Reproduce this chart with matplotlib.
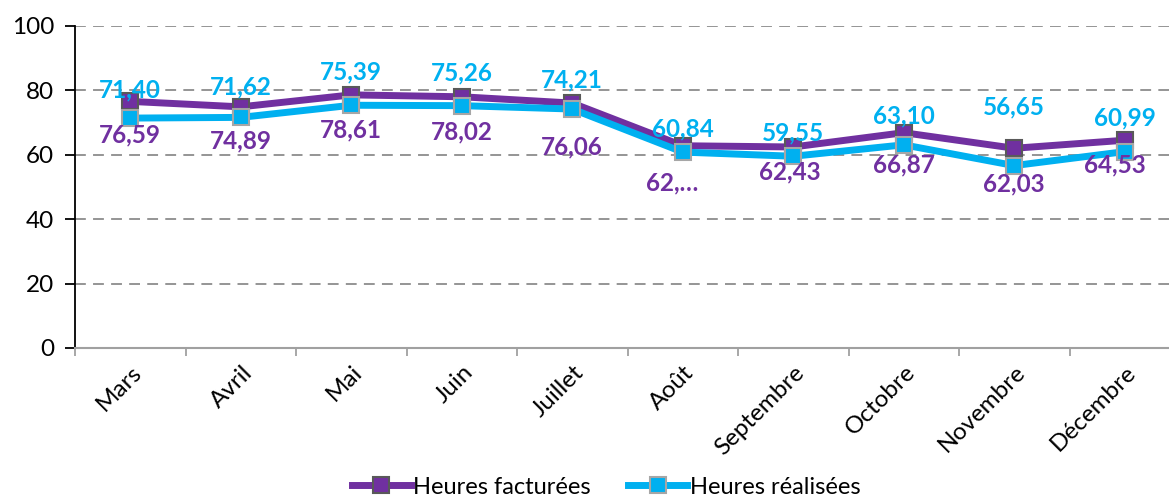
import matplotlib.pyplot as plt
from matplotlib.lines import Line2D

months = ['Mars', 'Avril', 'Mai', 'Juin', 'Juillet', 'Août',
          'Septembre', 'Octobre', 'Novembre', 'Décembre']
facturees = [76.59, 74.89, 78.61, 78.02, 76.06, 62.81, 62.43, 66.87, 62.03, 64.53]
realisees = [71.40, 71.62, 75.39, 75.26, 74.21, 60.84, 59.55, 63.10, 56.65, 60.99]
fact_labels = ['76,59', '74,89', '78,61', '78,02', '76,06', '62,…', '62,43', '66,87', '62,03', '64,53']
real_labels = ['71,40', '71,62', '75,39', '75,26', '74,21', '60,84', '59,55', '63,10', '56,65', '60,99']

# label offsets in pixels (Excel placement)
fact_off = [(0, -34), (0, -34), (0, -35), (0, -35), (0, -44), (-11, -37), (-3, -25), (0, -32), (0, -36), (-10, -25)]
real_off = [(0, 28), (0, 30), (0, 33), (0, 33), (0, 29), (0, 23), (0, 23), (0, 29), (0, 59), (0, 34)]

PURPLE = '#7030A0'
CYAN = '#00B0F0'
FONT = 'Lato'
FS = 17.5

plt.rcParams['font.family'] = [FONT, 'DejaVu Sans']

fig = plt.figure(figsize=(11.69, 4.97), dpi=100)
ax = fig.add_axes([75 / 1169, 149 / 497, 1105 / 1169, 322 / 497])

x = list(range(len(months)))
ax.plot(x, facturees, color=PURPLE, lw=5, marker='s', ms=12,
        mfc=PURPLE, mec='#595959', mew=1.5, zorder=4)
ax.plot(x, realisees, color=CYAN, lw=5, marker='s', ms=12,
        mfc=CYAN, mec='#A6A6A6', mew=1.5, zorder=5)

for i in x:
    ax.annotate(fact_labels[i], (i, facturees[i]), xytext=fact_off[i],
                textcoords='offset pixels', ha='center', va='center',
                fontsize=FS, fontweight='bold', color=PURPLE, zorder=6)
    ax.annotate(real_labels[i], (i, realisees[i]), xytext=real_off[i],
                textcoords='offset pixels', ha='center', va='center',
                fontsize=FS, fontweight='bold', color=CYAN, zorder=6)

ax.set_xlim(-0.5, len(months) - 0.5)
ax.set_ylim(0, 100)
ax.set_yticks([0, 20, 40, 60, 80, 100])
ax.yaxis.grid(True, color='#8C8C8C', ls=(0, (6, 4)), lw=1.3)
ax.set_axisbelow(True)

for s in ['top', 'right']:
    ax.spines[s].set_visible(False)
ax.spines['left'].set_color('black')
ax.spines['left'].set_linewidth(1.3)
ax.spines['bottom'].set_color('#A0A0A0')
ax.spines['bottom'].set_linewidth(1.5)

ax.set_xticks([i - 0.5 for i in range(len(months) + 1)])
ax.set_xticklabels([])
ax.tick_params(axis='x', length=6, width=1.3, color='#A0A0A0', direction='out')
ax.tick_params(axis='y', length=7, width=1.3, color='black', labelsize=FS, pad=8)

for i, m in enumerate(months):
    ax.annotate(m, (i, 0), xytext=(8, -21), textcoords='offset pixels',
                rotation=45, rotation_mode='anchor', ha='right', va='center',
                fontsize=FS, annotation_clip=False)

handles = [
    Line2D([], [], color=PURPLE, lw=5, marker='s', ms=12, mfc=PURPLE, mec='#595959', mew=1.5),
    Line2D([], [], color=CYAN, lw=5, marker='s', ms=12, mfc=CYAN, mec='#A6A6A6', mew=1.5),
]
fig.legend(handles, ['Heures facturées', 'Heures réalisées'], loc='center',
           bbox_to_anchor=(606 / 1169, 10 / 497), ncol=2, frameon=False,
           fontsize=17, handlelength=2.5, handletextpad=0.1, columnspacing=1.6,
           borderaxespad=0)

fig.savefig('out.png', dpi=100)
